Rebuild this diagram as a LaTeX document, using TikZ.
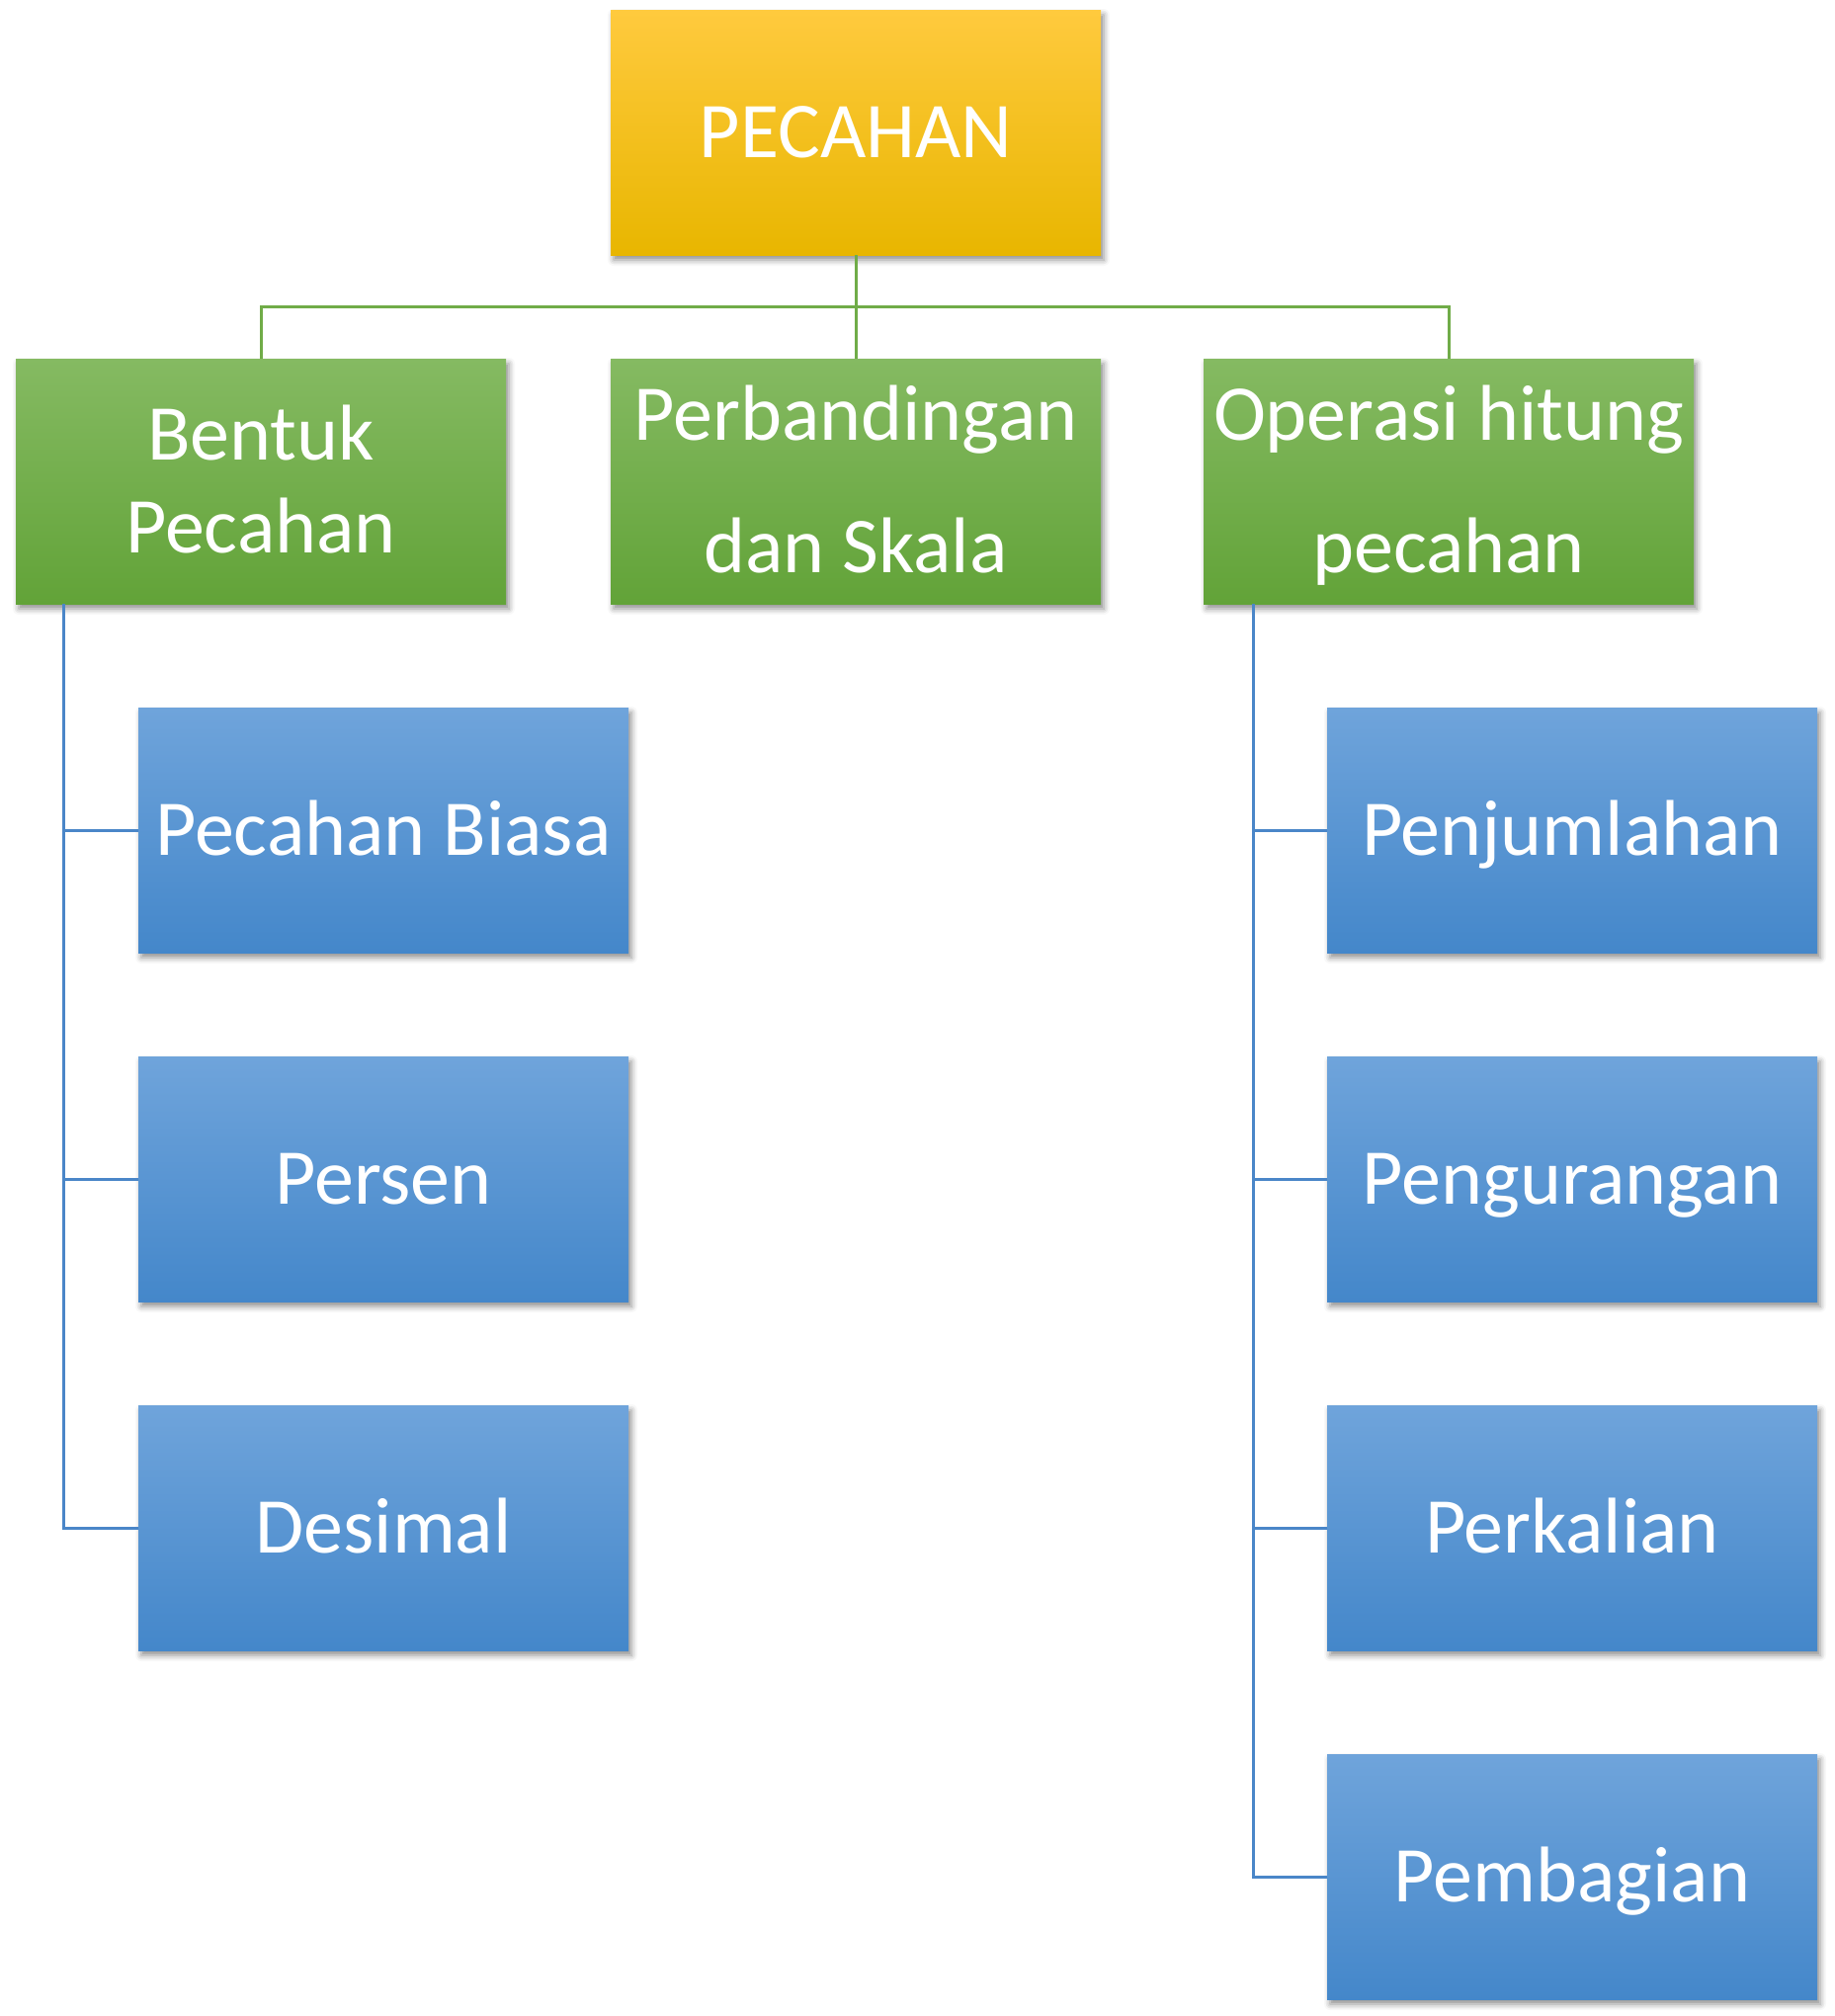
\documentclass[tikz,border=0pt]{standalone}
\usepackage{fontspec}
\setmainfont{Carlito}
\usetikzlibrary{shadows.blur}
\definecolor{goldT}{RGB}{255,202,62}
\definecolor{goldM}{RGB}{255,192,0}
\definecolor{goldB}{RGB}{232,182,0}
\definecolor{greenT}{RGB}{133,186,98}
\definecolor{greenB}{RGB}{98,163,56}
\definecolor{blueT}{RGB}{111,164,219}
\definecolor{blueB}{RGB}{68,135,202}
\definecolor{gline}{RGB}{112,172,72}
\definecolor{bline}{RGB}{74,134,200}
\begin{document}
\begin{tikzpicture}[x=1pt,y=-1pt,
  box/.style={rectangle, minimum width=496pt, minimum height=248pt, inner sep=0pt,
    text=white, font=\fontsize{80}{96}\selectfont, text height=51.5pt, text depth=0pt,
    align=center, shading=axis,
    blur shadow={shadow xshift=3pt, shadow yshift=-5pt, shadow blur radius=6pt, shadow opacity=45}},
  goldbox/.style={box, top color=goldT, middle color=goldM, bottom color=goldB},
  greenbox/.style={box, top color=greenT, bottom color=greenB},
  bluebox/.style={box, top color=blueT, bottom color=blueB},
  gconn/.style={draw=gline, line width=3pt},
  bconn/.style={draw=bline, line width=3pt}]
\useasboundingbox (0,0) rectangle (1856,2040);

\node[goldbox] (top) at (866,134) {PECAHAN};
\node[greenbox, font=\fontsize{80}{94}\selectfont, text height=145.5pt] (bentuk) at (264,487) {Bentuk\\Pecahan};
\node[greenbox, font=\fontsize{80}{134}\selectfont, text height=185.5pt] (perb) at (866,487) {Perbandingan\\dan Skala};
\node[greenbox, font=\fontsize{80}{134}\selectfont, text height=185.5pt] (ops) at (1466,487) {Operasi hitung\\pecahan};

\node[bluebox] (pb) at (388,840) {Pecahan Biasa};
\node[bluebox] (persen) at (388,1193) {Persen};
\node[bluebox] (desimal) at (388,1546) {Desimal};

\node[bluebox] (pj) at (1591,840) {Penjumlahan};
\node[bluebox] (pk) at (1591,1193) {Pengurangan};
\node[bluebox] (pl) at (1591,1546) {Perkalian};
\node[bluebox] (pg) at (1591,1899) {Pembagian};

\coordinate (hub) at (866,310);
\draw[gconn] (top.south) -- (hub);
\draw[gconn] (hub) -| (bentuk.north);
\draw[gconn] (hub) -- (perb.north);
\draw[gconn] (hub) -| (ops.north);

\draw[bconn] ([xshift=49pt]bentuk.south west) |- (pb.west);
\draw[bconn] ([xshift=49pt]bentuk.south west) |- (persen.west);
\draw[bconn] ([xshift=49pt]bentuk.south west) |- (desimal.west);

\draw[bconn] ([xshift=51pt]ops.south west) |- (pj.west);
\draw[bconn] ([xshift=51pt]ops.south west) |- (pk.west);
\draw[bconn] ([xshift=51pt]ops.south west) |- (pl.west);
\draw[bconn] ([xshift=51pt]ops.south west) |- (pg.west);
\end{tikzpicture}
\end{document}
